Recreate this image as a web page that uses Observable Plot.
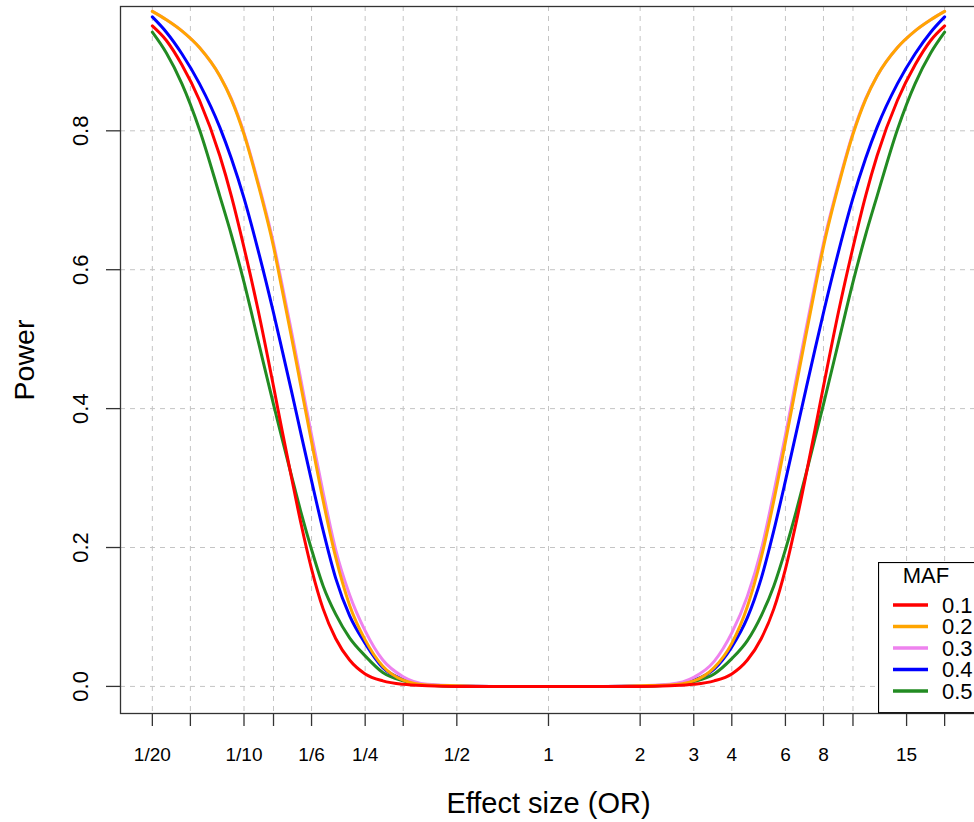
<!DOCTYPE html>
<html>
<head>
<meta charset="utf-8">
<script src="https://cdn.jsdelivr.net/npm/d3@7"></script>
<script src="https://cdn.jsdelivr.net/npm/@observablehq/plot@0.6"></script>
<style>
html, body { margin: 0; padding: 0; background: #fff; overflow: hidden; }
#wrap { position: relative; width: 974px; height: 822px; font-family: "Liberation Sans", Arial, sans-serif; }
</style>
</head>
<body>
<div id="wrap"></div>
<script>
// Odds ratios (x values)
const orValues = [0.05, 0.0556, 0.0625, 0.0714, 0.0833, 0.0909, 0.1, 0.1111, 0.125, 0.1333,
  0.1429, 0.1538, 0.1667, 0.1818, 0.2, 0.2222, 0.25, 0.2857, 0.3333, 0.4, 0.5, 0.6667,
  1,
  1.5, 2, 2.5, 3, 3.5, 4, 4.5, 5, 5.5, 6, 6.5, 7, 7.5, 8, 9, 10, 11, 12, 14, 16, 18, 20];

// Power per MAF
const power01 = [0.951, 0.930, 0.895, 0.844, 0.764, 0.706, 0.632, 0.543, 0.432, 0.369, 0.303, 0.235, 0.169, 0.112, 0.069, 0.038, 0.018, 0.008, 0.003, 0.001, 0, 0,
  0,
  0, 0, 0.001, 0.003, 0.008, 0.018, 0.038, 0.069, 0.112, 0.169, 0.235, 0.303, 0.369, 0.432, 0.543, 0.632, 0.706, 0.764, 0.844, 0.895, 0.930, 0.951];
const power02 = [0.972, 0.96, 0.944, 0.92, 0.879, 0.845, 0.795, 0.724, 0.633, 0.572, 0.505, 0.432, 0.352, 0.268, 0.186, 0.117, 0.067, 0.029, 0.009, 0.002, 0.001, 0,
  0,
  0, 0.001, 0.002, 0.008, 0.027, 0.062, 0.115, 0.186, 0.268, 0.352, 0.432, 0.505, 0.572, 0.633, 0.724, 0.795, 0.845, 0.879, 0.92, 0.944, 0.96, 0.972];
const power03 = [0.972, 0.96, 0.944, 0.92, 0.879, 0.846, 0.797, 0.727, 0.638, 0.579, 0.513, 0.441, 0.362, 0.28, 0.197, 0.132, 0.08, 0.038, 0.014, 0.003, 0.001, 0,
  0,
  0, 0.001, 0.003, 0.013, 0.036, 0.077, 0.13, 0.197, 0.28, 0.362, 0.441, 0.513, 0.579, 0.638, 0.727, 0.797, 0.846, 0.879, 0.92, 0.944, 0.96, 0.972];
const power04 = [0.964, 0.942, 0.911, 0.868, 0.805, 0.76, 0.703, 0.629, 0.538, 0.485, 0.427, 0.364, 0.296, 0.225, 0.156, 0.102, 0.062, 0.027, 0.01, 0.002, 0.001, 0,
  0,
  0, 0.001, 0.002, 0.009, 0.025, 0.057, 0.099, 0.156, 0.225, 0.296, 0.364, 0.427, 0.485, 0.538, 0.629, 0.703, 0.76, 0.805, 0.868, 0.911, 0.942, 0.964];
const power05 = [0.942, 0.912, 0.868, 0.802, 0.706, 0.65, 0.582, 0.499, 0.406, 0.357, 0.305, 0.251, 0.197, 0.145, 0.104, 0.07, 0.044, 0.02, 0.008, 0.002, 0, 0,
  0,
  0, 0, 0.002, 0.007, 0.018, 0.04, 0.066, 0.102, 0.145, 0.197, 0.251, 0.305, 0.357, 0.406, 0.499, 0.582, 0.65, 0.706, 0.802, 0.868, 0.912, 0.942];

const mafLabels = ["0.1", "0.2", "0.3", "0.4", "0.5"];
const mafColors = ["#ff0000", "#ffa500", "#ee82ee", "#0000ff", "#228b22"];

const xTicks = [1/20, 1/15, 1/10, 1/8, 1/6, 1/4, 1/3, 1/2, 1, 2, 3, 4, 6, 8, 10, 15, 20];
const xTickLabels = ["1/20", "", "1/10", "", "1/6", "1/4", "", "1/2", "1", "2", "3", "4", "6", "8", "", "15", ""];
const yTicks = [0, 0.2, 0.4, 0.6, 0.8];
const yTickLabels = ["0.0", "0.2", "0.4", "0.6", "0.8"];

const seriesList = [power01, power02, power03, power04, power05];
const rowsFor = (i) => orValues.map((or, j) => ({or, power: seriesList[i][j], maf: mafLabels[i]}));

const gridStyle = {stroke: "#c4c4c4", strokeOpacity: 1, strokeWidth: 1, strokeDasharray: "5,5"};

const lineMarks = [4, 3, 2, 1, 0].map(i =>
  Plot.line(rowsFor(i), {x: "or", y: "power", stroke: mafColors[i], strokeWidth: 3, curve: "monotone-x"})
);

const chart = Plot.plot({
  width: 974,
  height: 822,
  marginLeft: 120,
  marginRight: -2,
  marginTop: 6,
  marginBottom: 109,
  style: {fontFamily: "'Liberation Sans', Arial, sans-serif", background: "white", maxWidth: "none", color: "#000"},
  x: {type: "log", domain: [0.0393, 25.45]},
  y: {domain: [-0.039, 0.979]},
  marks: [
    Plot.gridX(xTicks, gridStyle),
    Plot.gridY(yTicks, gridStyle),
    ...lineMarks,
    Plot.frame({stroke: "#333", strokeWidth: 1.3}),
    Plot.axisX({ticks: xTicks, tickSize: 13, stroke: "#333", strokeWidth: 1.3, tickFormat: () => "", label: null}),
    Plot.axisY({ticks: yTicks, tickSize: 14, stroke: "#333", strokeWidth: 1.3, tickFormat: () => "", label: null}),
    Plot.text(xTicks, {x: d => d, text: (d, i) => xTickLabels[i], frameAnchor: "bottom", dy: 41,
      lineAnchor: "middle", textAnchor: "middle", fontSize: 19, fill: "#000"}),
    Plot.text(yTicks, {y: d => d, text: (d, i) => yTickLabels[i], frameAnchor: "left", dx: -40, rotate: -90,
      textAnchor: "middle", lineAnchor: "middle", fontSize: 22, fill: "#000"}),
    Plot.text(["Power"], {text: d => d, frameAnchor: "left", dx: -96, rotate: -90,
      textAnchor: "middle", lineAnchor: "middle", fontSize: 28.5, fill: "#000"}),
    Plot.text(["Effect size (OR)"], {text: d => d, frameAnchor: "bottom", dy: 90,
      textAnchor: "middle", lineAnchor: "middle", fontSize: 29, fill: "#000"})
  ]
});
chart.style.maxWidth = "none";
document.getElementById("wrap").appendChild(chart);

// Legend (box inside the plot, bottom right)
const leg = d3.select("#wrap").append("svg")
  .style("position", "absolute").style("left", "878px").style("top", "562px")
  .attr("width", 96).attr("height", 152)
  .style("font-family", "'Liberation Sans', Arial, sans-serif");
leg.append("rect").attr("x", 0.5).attr("y", 0.5).attr("width", 200).attr("height", 150.2)
  .attr("fill", "white").attr("stroke", "#000").attr("stroke-width", 1.2);
leg.append("text").attr("x", 48).attr("y", 13).attr("text-anchor", "middle")
  .attr("dominant-baseline", "central").attr("font-size", 22).text("MAF");
mafLabels.forEach((lab, i) => {
  const yy = 43 + 21.5 * i;
  leg.append("line").attr("x1", 15).attr("x2", 50).attr("y1", yy).attr("y2", yy)
    .attr("stroke", mafColors[i]).attr("stroke-width", 3.5);
  leg.append("text").attr("x", 64).attr("y", yy).attr("dominant-baseline", "central")
    .attr("font-size", 22).text(lab);
});
</script>
</body>
</html>
